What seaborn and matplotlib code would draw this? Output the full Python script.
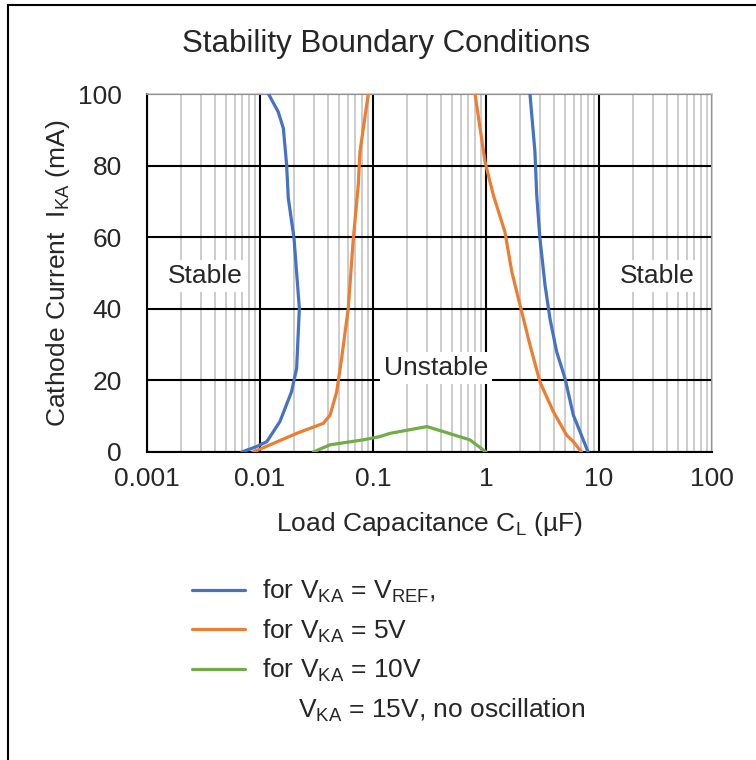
# graficar limites de estabilidad
import numpy as np
import pandas as pd
import seaborn as sns
import matplotlib.pyplot as plt
from matplotlib.lines import Line2D
from matplotlib.patches import Rectangle
from matplotlib.ticker import LogLocator, NullFormatter

# datos (capacitancia uF, corriente mA)
vref_left_c = [0.0119, 0.0145, 0.0161, 0.0172, 0.0178, 0.020, 0.0223, 0.0211, 0.019, 0.015, 0.0115, 0.0093, 0.0069]
vref_left_i = [100, 95, 90.4, 80.2, 70.9, 59.7, 40.1, 23.4, 16.8, 8.5, 2.9, 1.5, 0]
vref_right_c = [2.45, 2.71, 2.81, 3.0, 3.33, 3.68, 4.22, 5.0, 5.93, 6.79, 8.0]
vref_right_i = [100, 83.9, 71.8, 59.7, 46.6, 37.3, 28.0, 20.6, 10.3, 5.7, 0]

v5_left_c = [0.0908, 0.0767, 0.0741, 0.067, 0.0604, 0.0528, 0.0477, 0.0417, 0.0363, 0.0211, 0.0131, 0.0087]
v5_left_i = [100, 83.9, 74.6, 59.7, 40.1, 26.2, 16.8, 10.3, 8.0, 5.2, 2.4, 0]
v5_right_c = [0.80, 0.98, 1.16, 1.47, 1.69, 2.0, 2.45, 3.0, 3.94, 5.17, 5.93, 7.0]
v5_right_i = [100, 81.1, 71.8, 61.5, 50.4, 41.1, 29.9, 19.6, 11.3, 4.7, 2.9, 0]

v10_c = [0.0296, 0.0417, 0.082, 0.115, 0.141, 0.30, 0.72, 1.0]
v10_i = [0, 2.0, 3.4, 4.3, 5.2, 7.1, 3.4, 0]

xticks = [0.001, 0.01, 0.1, 1, 10, 100]
xtick_labels = ['0.001', '0.01', '0.1', '1', '10', '100']
yticks = [0, 20, 40, 60, 80, 100]

azul = '#4472C4'
naranja = '#ED7D31'
verde = '#70AD47'

sns.set_style('white')
plt.rcParams['font.family'] = ['Liberation Sans', 'DejaVu Sans']
plt.rcParams['mathtext.default'] = 'regular'

fs = 19

fig = plt.figure(figsize=(7.56, 7.6), dpi=100)
ax = fig.add_axes([147/756, 1-452/760, 565/756, 358/760])

# curvas
for c, i, col in [(vref_left_c, vref_left_i, azul), (vref_right_c, vref_right_i, azul),
                  (v5_left_c, v5_left_i, naranja), (v5_right_c, v5_right_i, naranja),
                  (v10_c, v10_i, verde)]:
    sns.lineplot(x=c, y=i, sort=False, estimator=None, color=col, linewidth=2.3, ax=ax, zorder=5)

ax.set_xscale('log')
ax.set_xlim(0.001, 100)
ax.set_ylim(0, 100)
ax.set_xticks(xticks)
ax.set_xticklabels(xtick_labels)
ax.set_yticks(yticks)
ax.xaxis.set_minor_locator(LogLocator(base=10, subs=np.arange(2, 10), numticks=100))
ax.xaxis.set_minor_formatter(NullFormatter())
ax.tick_params(axis='both', which='both', length=0, labelsize=fs)
ax.tick_params(axis='x', pad=11)
ax.tick_params(axis='y', pad=18)

# cuadricula
ax.grid(which='minor', axis='x', color='#BFBFBF', linewidth=1.1)
ax.grid(which='major', axis='both', color='black', linewidth=1.5)
ax.set_axisbelow(True)
for s in ['left', 'bottom']:
    ax.spines[s].set_color('black')
    ax.spines[s].set_linewidth(1.5)
for s in ['top', 'right']:
    ax.spines[s].set_color('#BFBFBF')
    ax.spines[s].set_linewidth(1.1)

# etiquetas de regiones
caja = dict(facecolor='white', edgecolor='none', pad=3)
ax.text(0.00326, 49.2, 'Stable', fontsize=fs, ha='center', va='center', bbox=caja, zorder=4)
ax.text(32.6, 49.2, 'Stable', fontsize=fs, ha='center', va='center', bbox=caja, zorder=4)
ax.text(0.361, 23.5, 'Unstable', fontsize=fs, ha='center', va='center', bbox=caja, zorder=4)

ax.set_ylabel('Cathode Current  I$_{KA}$ (mA)', fontsize=fs)
ax.set_xlabel('Load Capacitance C$_{L}$ (µF)', fontsize=fs)
ax.yaxis.set_label_coords((58-147)/565, (452-273)/358)
ax.xaxis.set_label_coords(0.5, (452-524)/358)
ax.yaxis.label.set_va('center')
ax.xaxis.label.set_va('center')

fig.text(386/756, 1-44/760, 'Stability Boundary Conditions', fontsize=22.5, ha='center', va='center')

# leyenda
handles = [Line2D([], [], color=azul, linewidth=2.3),
           Line2D([], [], color=naranja, linewidth=2.3),
           Line2D([], [], color=verde, linewidth=2.3)]
labels = ['for V$_{KA}$ = V$_{REF}$,', 'for V$_{KA}$ = 5V', 'for V$_{KA}$ = 10V']
fig.legend(handles, labels, loc='upper left', bbox_to_anchor=(192/756, 1-578/760),
           frameon=False, fontsize=fs, borderpad=0, borderaxespad=0,
           handlelength=2.0, handletextpad=0.65, labelspacing=0.47)
fig.text(298/756, 1-710/760, 'V$_{KA}$ = 15V, no oscillation', fontsize=fs, ha='left', va='center')

# marco de la figura
fig.patches.append(Rectangle((8/756, -0.1), 1.2, 1 - 5/760 + 0.1, transform=fig.transFigure,
                             fill=False, edgecolor='black', linewidth=1.5))

fig.savefig('out.png', dpi=100)
